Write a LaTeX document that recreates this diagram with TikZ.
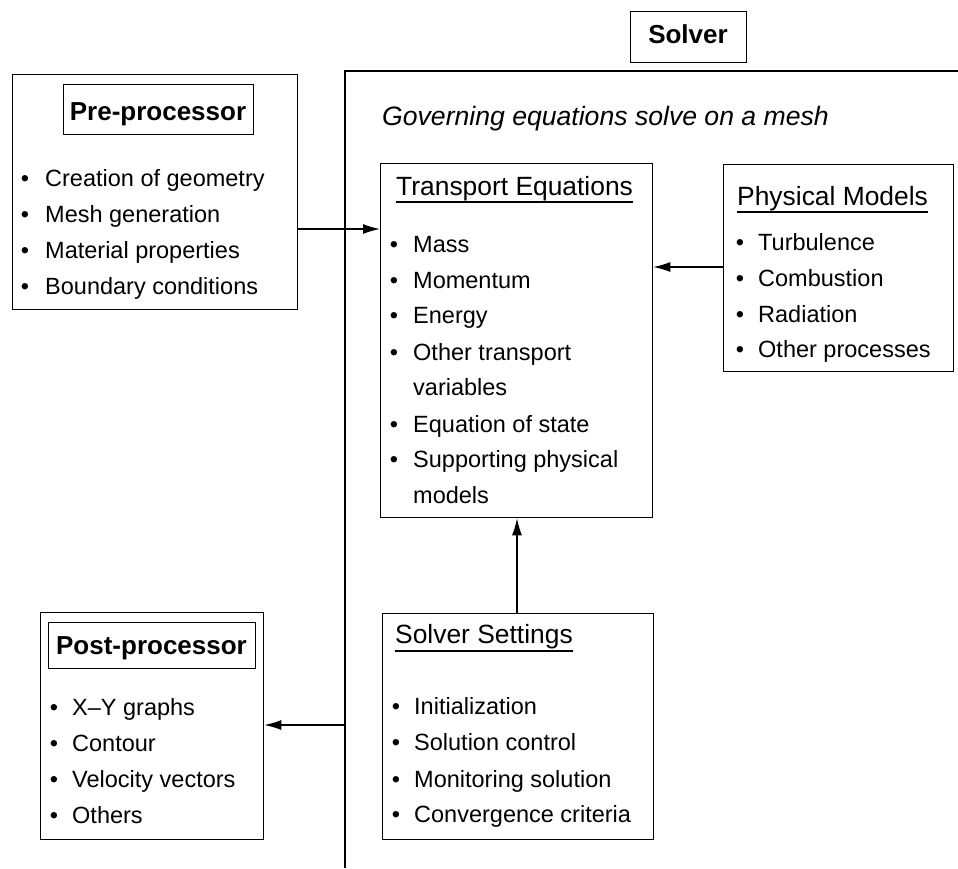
\documentclass[tikz,border=0pt]{standalone}
\usepackage{fontspec}
\setmainfont{Liberation Sans}
\usetikzlibrary{arrows.meta,calc}
\begin{document}
\begin{tikzpicture}[x=1pt,y=-1pt,
  box/.style={draw,line width=1.3pt,inner sep=0pt,anchor=north west},
  body/.style={anchor=base west,inner sep=0pt,font=\fontsize{23.5}{28}\selectfont},
  bul/.style={anchor=base,inner sep=0pt,font=\fontsize{23.5}{28}\selectfont},
  ttl/.style={anchor=base west,inner sep=0pt,font=\fontsize{26.4}{30}\selectfont},
  lbl/.style={anchor=base,inner sep=0pt,font=\bfseries\fontsize{26}{30}\selectfont},
  arr/.style={line width=1.3pt,-{Latex[length=17pt,width=10pt]}}]
\useasboundingbox (0,0) rectangle (958,868);

% Solver frame
\node[box,minimum width=116pt,minimum height=51pt] (slbox) at (630,11) {};
\node[lbl] (sltxt) at (688,43) {Solver};
\coordinate (stl) at (345,71);
\coordinate (str) at (958,71);
\coordinate (sbl) at (345,868);
\draw[line width=1.3pt] (str) -- (stl) -- (sbl);
\node[anchor=base west,inner sep=0pt,font=\itshape\fontsize{26.6}{30}\selectfont] (gov) at (382,125) {Governing equations solve on a mesh};

% Pre-processor
\node[box,minimum width=285pt,minimum height=235pt] (pre) at (12,74) {};
\node[box,minimum width=190pt,minimum height=50pt] (prelbl) at (63,84) {};
\node[lbl] (pret) at (158,120) {Pre-processor};
\node[bul] (pb1) at (25,186) {•}; \node[body] (p1) at (45,186) {Creation of geometry};
\node[bul] (pb2) at (25,222) {•}; \node[body] (p2) at (45,222) {Mesh generation};
\node[bul] (pb3) at (25,258) {•}; \node[body] (p3) at (45,258) {Material properties};
\node[bul] (pb4) at (25,294) {•}; \node[body] (p4) at (45,294) {Boundary conditions};

% Transport equations
\node[box,minimum width=272pt,minimum height=354pt] (trans) at (380,163) {};
\node[ttl] (tt) at (396,195) {Transport Equations};
\draw[line width=1.3pt] ([yshift=-7pt]tt.base west) -- ([yshift=-7pt]tt.base east);
\node[bul] (tb1) at (394,252) {•}; \node[body] (t1) at (413,252) {Mass};
\node[bul] (tb2) at (394,288) {•}; \node[body] (t2) at (413,288) {Momentum};
\node[bul] (tb3) at (394,323) {•}; \node[body] (t3) at (413,323) {Energy};
\node[bul] (tb4) at (394,360) {•}; \node[body] (t4) at (413,360) {Other transport};
\node[body] (t4b) at (413,395) {variables};
\node[bul] (tb5) at (394,432) {•}; \node[body] (t5) at (413,432) {Equation of state};
\node[bul] (tb6) at (394,467) {•}; \node[body] (t6) at (413,467) {Supporting physical};
\node[body] (t6b) at (413,503) {models};

% Physical models
\node[box,minimum width=230pt,minimum height=207pt] (phys) at (723,164) {};
\node[ttl] (pt) at (737,205) {Physical Models};
\draw[line width=1.3pt] ([yshift=-7pt]pt.base west) -- ([yshift=-7pt]pt.base east);
\node[bul] (mb1) at (740,250) {•}; \node[body] (m1) at (758,250) {Turbulence};
\node[bul] (mb2) at (740,286) {•}; \node[body] (m2) at (758,286) {Combustion};
\node[bul] (mb3) at (740,322) {•}; \node[body] (m3) at (758,322) {Radiation};
\node[bul] (mb4) at (740,357) {•}; \node[body] (m4) at (758,357) {Other processes};

% Solver settings
\node[box,minimum width=271pt,minimum height=226pt] (set) at (382,613) {};
\node[ttl] (st) at (395,643) {Solver Settings};
\draw[line width=1.3pt] ([yshift=-8pt]st.base west) -- ([yshift=-8pt]st.base east);
\node[bul] (sb1) at (396,714) {•}; \node[body] (s1) at (414,714) {Initialization};
\node[bul] (sb2) at (396,750) {•}; \node[body] (s2) at (414,750) {Solution control};
\node[bul] (sb3) at (396,787) {•}; \node[body] (s3) at (414,787) {Monitoring solution};
\node[bul] (sb4) at (396,822) {•}; \node[body] (s4) at (414,822) {Convergence criteria};

% Post-processor
\node[box,minimum width=223pt,minimum height=227pt] (post) at (40,612) {};
\node[box,minimum width=207pt,minimum height=46pt] (postlbl) at (48,622) {};
\node[lbl] (postt) at (151.5,654) {Post-processor};
\node[bul] (ob1) at (54,715) {•}; \node[body] (o1) at (72,715) {X–Y graphs};
\node[bul] (ob2) at (54,751) {•}; \node[body] (o2) at (72,751) {Contour};
\node[bul] (ob3) at (54,787) {•}; \node[body] (o3) at (72,787) {Velocity vectors};
\node[bul] (ob4) at (54,823) {•}; \node[body] (o4) at (72,823) {Others};

% connectors
\coordinate (ya) at (0,229);
\coordinate (yb) at (0,267);
\coordinate (yc) at (0,725);
\draw[arr] (pre.east |- ya) -- (trans.west |- ya);
\draw[arr] (phys.west |- yb) -- (trans.east |- yb);
\draw[arr] (set.north -| 517,0) -- (trans.south -| 517,0);
\draw[arr] (sbl |- yc) -- (post.east |- yc);
\end{tikzpicture}
\end{document}
